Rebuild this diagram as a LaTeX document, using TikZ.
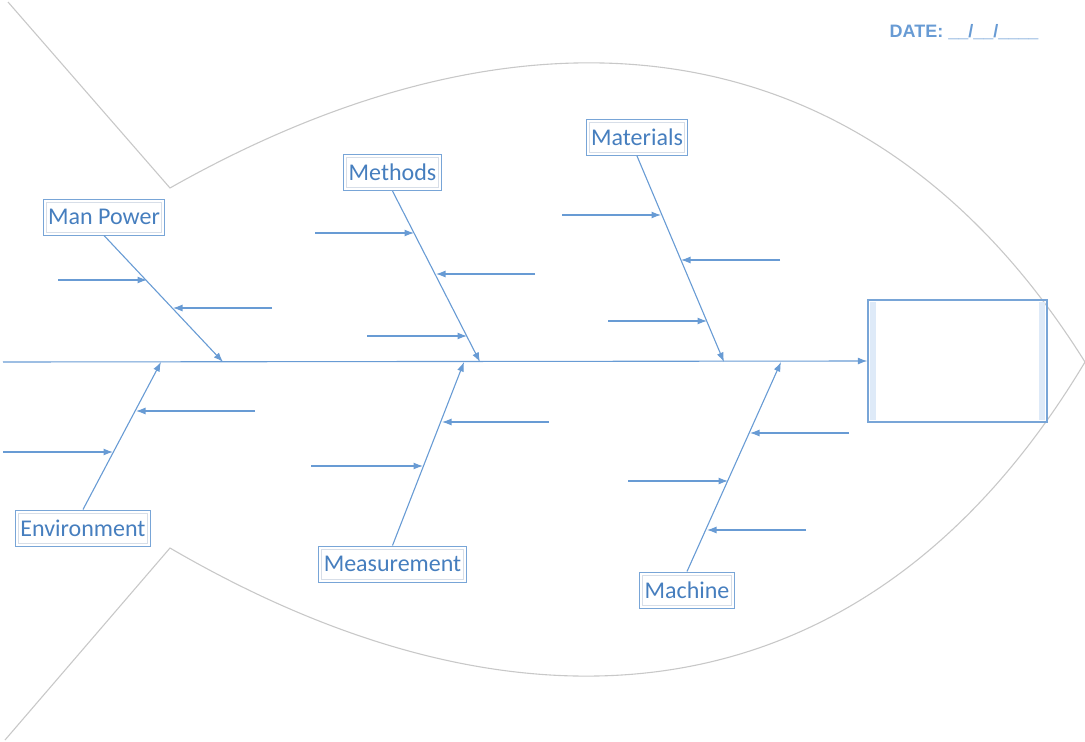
\documentclass[tikz,border=0pt]{standalone}
\usepackage{fontspec}
\setmainfont{Carlito}
\newfontfamily\datefont{Liberation Sans}
\usetikzlibrary{arrows.meta,calc}
\definecolor{boneblue}{RGB}{104,155,212}
\definecolor{textblue}{RGB}{70,126,190}
\definecolor{boxblue}{RGB}{120,165,215}
\definecolor{innergray}{RGB}{215,222,232}
\definecolor{fishgray}{RGB}{200,200,200}
\definecolor{stripblue}{RGB}{222,234,248}
\begin{document}
\begin{tikzpicture}[x=1pt,y=-1pt,
  bone/.style={draw=boneblue,line width=1.1pt,-{Latex[length=9.5pt,width=7pt]}},
  fish/.style={draw=fishgray,line width=1.1pt},
  catbox/.style={draw=boxblue,line width=1pt,text=textblue,
    font=\fontsize{24}{28}\selectfont,inner xsep=5pt,minimum height=36pt,
    path picture={\draw[innergray,line width=0.8pt]
      ([shift={(3pt,-3pt)}]path picture bounding box.north west) rectangle
      ([shift={(-3pt,3pt)}]path picture bounding box.south east);}},
  headbox/.style={draw=boxblue,line width=1.3pt,minimum width=179pt,minimum height=122pt,
    path picture={
      \fill[stripblue] ([shift={(2pt,-2pt)}]path picture bounding box.north west) rectangle
        ([shift={(8pt,2pt)}]path picture bounding box.south west);
      \fill[stripblue] ([shift={(-8pt,-2pt)}]path picture bounding box.north east) rectangle
        ([shift={(-2pt,2pt)}]path picture bounding box.south east);}},
  datestyle/.style={text=boneblue,font=\datefont\bfseries\fontsize{18}{21}\selectfont}
]
\useasboundingbox (0,0) rectangle (1085,742);

% fish outline
\draw[fish] (8,2) -- (170,188) .. controls (520,-10) and (866,12) .. (1085,362)
  .. controls (866,728) and (520,752) .. (170,548) -- (5,740);

% date
\node[datestyle] (date) at (964,32) {DATE: \_\_/\_\_/\_\_\_\_};

% head
\node[headbox] (head) at (957.5,361) {};
\coordinate (sp0) at (3,362);
\draw[bone] (sp0) -- (head.west);

% category boxes
\node[catbox] (man) at (104,217) {Man Power};
\node[catbox] (meth) at (392.5,172.5) {Methods};
\node[catbox] (mat) at (637,137.5) {Materials};
\node[catbox] (env) at (83,528) {Environment};
\node[catbox] (meas) at (392.5,564) {Measurement};
\node[catbox] (mach) at (687,590) {Machine};

% spine end points of bones
\coordinate (manE) at (223,362);
\coordinate (methE) at (480,362);
\coordinate (matE) at (724,362);
\coordinate (envE) at (161,362);
\coordinate (measE) at (464,362);
\coordinate (machE) at (781,362);

\draw[bone] (man.south) -- (manE);
\draw[bone] (meth.south) -- (methE);
\draw[bone] (mat.south) -- (matE);
\draw[bone] (env.north) -- (envE);
\draw[bone] (meas.north) -- (measE);
\draw[bone] (mach.north) -- (machE);

% sub-cause arrows
\coordinate (m1a) at (58,280);   \coordinate (m1b) at (147,280);
\coordinate (m2a) at (272,308);  \coordinate (m2b) at (173,308);
\coordinate (t1a) at (315,233);  \coordinate (t1b) at (414,233);
\coordinate (t2a) at (535,274);  \coordinate (t2b) at (436,274);
\coordinate (t3a) at (367,336);  \coordinate (t3b) at (467,336);
\coordinate (a1a) at (562,215);  \coordinate (a1b) at (661,215);
\coordinate (a2a) at (780,260);  \coordinate (a2b) at (681,260);
\coordinate (a3a) at (608,321);  \coordinate (a3b) at (707,321);
\coordinate (e1a) at (255,411);  \coordinate (e1b) at (136,411);
\coordinate (e2a) at (3,452);    \coordinate (e2b) at (113,452);
\coordinate (s1a) at (549,422);  \coordinate (s1b) at (442,422);
\coordinate (s2a) at (311,466);  \coordinate (s2b) at (423,466);
\coordinate (c1a) at (849,433);  \coordinate (c1b) at (750,433);
\coordinate (c2a) at (628,481);  \coordinate (c2b) at (728,481);
\coordinate (c3a) at (806,530);  \coordinate (c3b) at (707,530);

\foreach \p in {m1,m2,t1,t2,t3,a1,a2,a3,e1,e2,s1,s2,c1,c2,c3}
  \draw[bone] (\p a) -- (\p b);
\end{tikzpicture}
\end{document}
